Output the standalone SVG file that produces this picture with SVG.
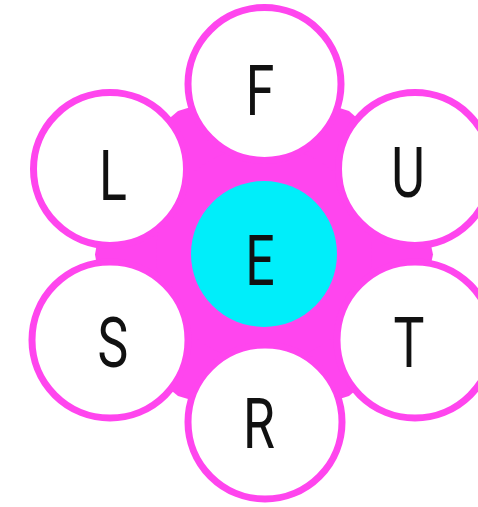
<svg xmlns="http://www.w3.org/2000/svg" width="478" height="507" viewBox="0 0 478 507">
  <style>
    .outer { fill: #ffffff; stroke: #ff45ee; stroke-width: 7; }
    .center { fill: #00eefa; }
    .lbl { font-family: Roboto, "Liberation Sans", Arial, sans-serif; font-weight: 400; font-size: 70px; fill: #111111; text-anchor: middle; }
  </style>
  <rect width="478" height="507" fill="#ffffff"/>
  <g id="connectors">
    <polygon points="264.5,84 349,111 415,169 433,254.5 415,340 349,396 265,422 178,396 110,340 95,254.5 110,169 178,111" fill="#ff45ee"/>
    <circle cx="264" cy="254" r="108" fill="#ff45ee"/>
  </g>
  <g id="node-E">
    <circle class="center" cx="264" cy="254" r="73"/>
    <text class="lbl" transform="translate(260,285) scale(0.74,1)">E</text>
  </g>
  <g id="node-F">
    <circle class="outer" cx="264.5" cy="84" r="76.5"/>
    <text class="lbl" transform="translate(260,115) scale(0.74,1)">F</text>
  </g>
  <g id="node-L">
    <circle class="outer" cx="110" cy="169" r="76.5"/>
    <text class="lbl" transform="translate(113,200) scale(0.74,1)">L</text>
  </g>
  <g id="node-U">
    <circle class="outer" cx="415" cy="169" r="76.5"/>
    <text class="lbl" transform="translate(408,197) scale(0.74,1)">U</text>
  </g>
  <g id="node-S">
    <circle class="outer" cx="110" cy="340" r="78"/>
    <text class="lbl" transform="translate(113,367) scale(0.74,1)">S</text>
  </g>
  <g id="node-T">
    <circle class="outer" cx="415" cy="340" r="78"/>
    <text class="lbl" transform="translate(409,367) scale(0.74,1)">T</text>
  </g>
  <g id="node-R">
    <circle class="outer" cx="265" cy="422" r="77"/>
    <text class="lbl" transform="translate(259,448) scale(0.74,1)">R</text>
  </g>
</svg>
